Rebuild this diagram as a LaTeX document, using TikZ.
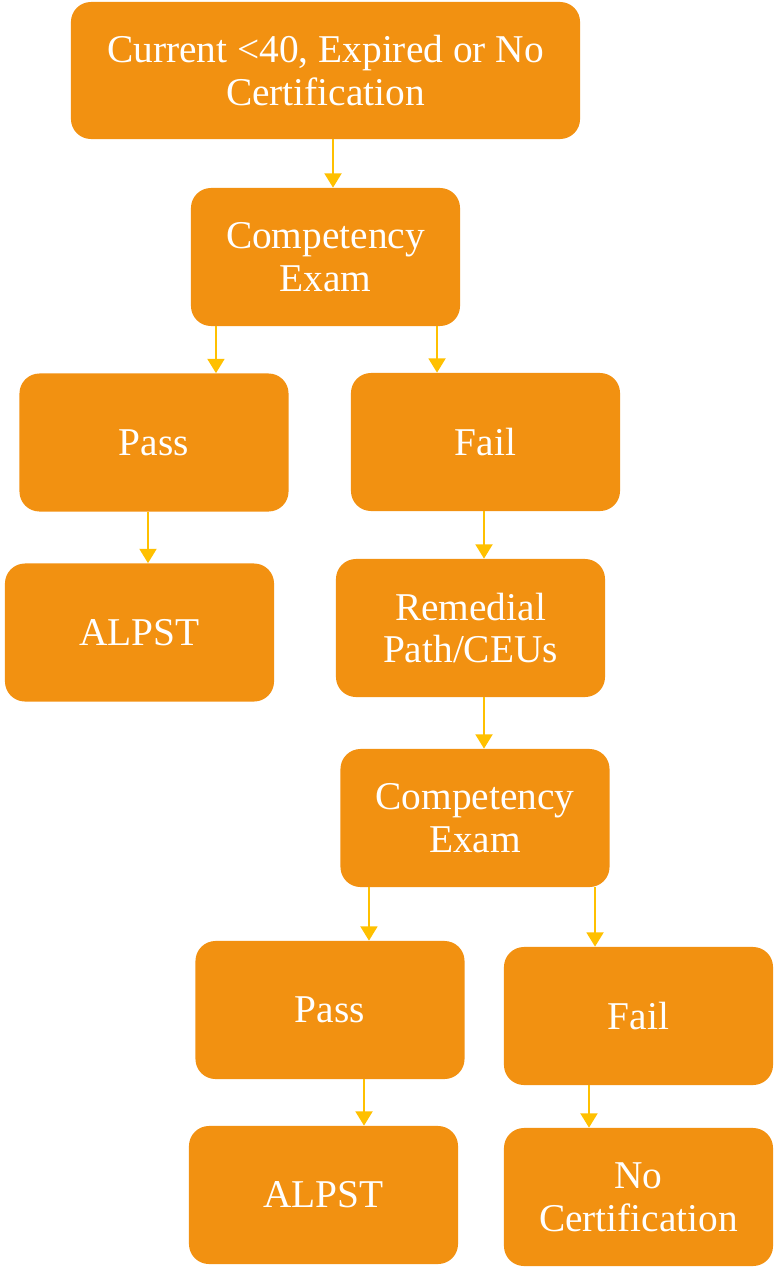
\documentclass[tikz,border=0pt]{standalone}
\usepackage{fontspec}
\setmainfont{Liberation Serif}
\usepackage{tikz}
\usetikzlibrary{arrows.meta, positioning, calc}
\definecolor{boxorange}{RGB}{242, 145, 17}
\definecolor{arrowgold}{RGB}{255, 192, 0}

\begin{document}
\begin{tikzpicture}[
    x=0.025cm, y=-0.025cm,
    box/.style={rectangle, rounded corners=0.5cm, fill=boxorange, text=white, minimum width=6.725cm, minimum height=3.45cm, align=center, font=\fontsize{28}{30.5}\selectfont, inner sep=0pt},
    arrowstyle/.style={-{Triangle[width=0.42cm, length=0.36cm]}, line width=1.9pt, arrowgold}
]
\useasboundingbox (0,0) rectangle (775,1268);

% First round
\node[box, minimum width=12.725cm, minimum height=3.425cm] (start) at (325.5,70.5) {Current <40, Expired or No\\Certification};
\node[box] (exam) at (325.5,257) {Competency\\Exam};
\node[box] (pass) at (154,442.5) {Pass};
\node[box] (fail) at (485.5,442) {Fail};
\node[box] (alpst) at (139.5,632.5) {ALPST};

% Remedial round
\node[box] (remedial) at (470.5,628) {Remedial\\Path/CEUs};
\node[box] (retest) at (475,818) {Competency\\Exam};
\node[box] (repass) at (330,1010) {Pass};
\node[box] (refail) at (638.5,1016) {Fail};
\node[box] (realpst) at (323.5,1195) {ALPST};
\node[box] (nocert) at (638.5,1197) {No\\Certification};

\draw[arrowstyle] ([xshift=0.1875cm]start.south) -- ([xshift=0.1875cm]start.south |- exam.north);
\draw[arrowstyle] ([xshift=-2.7375cm]exam.south) -- ([xshift=-2.7375cm]exam.south |- pass.north);
\draw[arrowstyle] ([xshift=2.7875cm]exam.south) -- ([xshift=2.7875cm]exam.south |- fail.north);
\draw[arrowstyle] ([xshift=-0.15cm]pass.south) -- ([xshift=-0.15cm]pass.south |- alpst.north);
\draw[arrowstyle] ([xshift=-0.0375cm]fail.south) -- ([xshift=-0.0375cm]fail.south |- remedial.north);
\draw[arrowstyle] ([xshift=0.3375cm]remedial.south) -- ([xshift=0.3375cm]remedial.south |- retest.north);
\draw[arrowstyle] ([xshift=-2.65cm]retest.south) -- ([xshift=-2.65cm]retest.south |- repass.north);
\draw[arrowstyle] ([xshift=3cm]retest.south) -- ([xshift=3cm]retest.south |- refail.north);
\draw[arrowstyle] ([xshift=0.85cm]repass.south) -- ([xshift=0.85cm]repass.south |- realpst.north);
\draw[arrowstyle] ([xshift=-1.2375cm]refail.south) -- ([xshift=-1.2375cm]refail.south |- nocert.north);
\end{tikzpicture}
\end{document}
